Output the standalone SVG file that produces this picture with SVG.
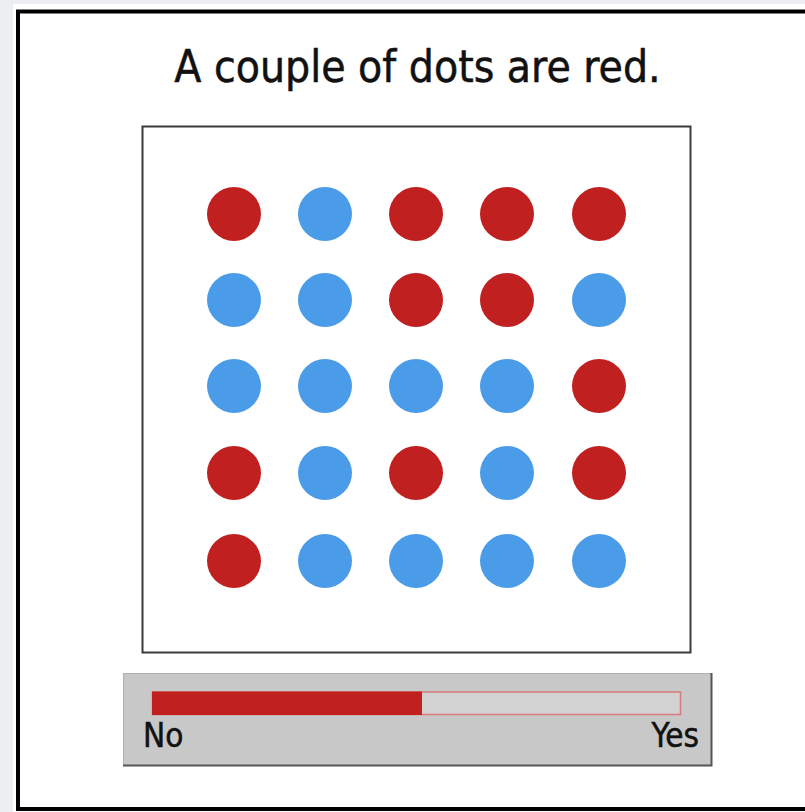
<svg xmlns="http://www.w3.org/2000/svg" width="805" height="812" viewBox="0 0 805 812">
<style>
.r{fill:#c0201f}
.b{fill:#4a9be8}
.t{font-family:'DejaVu Sans Condensed','DejaVu Sans',sans-serif;font-stretch:condensed;fill:#111;stroke:#111;stroke-width:0.5}
</style>
<rect x="0" y="0" width="805" height="812" fill="#eceef2"/>
<rect x="13" y="4" width="800" height="812" fill="#ffffff"/>
<rect id="frame" x="18" y="11.5" width="800" height="797.5" fill="#ffffff" stroke="#000" stroke-width="4"/>
<g id="title"><text class="t" x="417.5" y="82" font-size="44" text-anchor="middle">A couple of dots are red.</text></g>
<g id="panel"><rect x="142.5" y="126.5" width="548" height="526" fill="#fff" stroke="#3a3a3a" stroke-width="2"/></g>
<g id="dots">
<circle class="r" cx="234" cy="214" r="27"/><circle class="b" cx="325" cy="214" r="27"/><circle class="r" cx="416" cy="214" r="27"/><circle class="r" cx="507" cy="214" r="27"/><circle class="r" cx="599" cy="214" r="27"/>
<circle class="b" cx="234" cy="300" r="27"/><circle class="b" cx="325" cy="300" r="27"/><circle class="r" cx="416" cy="300" r="27"/><circle class="r" cx="507" cy="300" r="27"/><circle class="b" cx="599" cy="300" r="27"/>
<circle class="b" cx="234" cy="386" r="27"/><circle class="b" cx="325" cy="386" r="27"/><circle class="b" cx="416" cy="386" r="27"/><circle class="b" cx="507" cy="386" r="27"/><circle class="r" cx="599" cy="386" r="27"/>
<circle class="r" cx="234" cy="473" r="27"/><circle class="b" cx="325" cy="473" r="27"/><circle class="r" cx="416" cy="473" r="27"/><circle class="b" cx="507" cy="473" r="27"/><circle class="r" cx="599" cy="473" r="27"/>
<circle class="r" cx="234" cy="561" r="27"/><circle class="b" cx="325" cy="561" r="27"/><circle class="b" cx="416" cy="561" r="27"/><circle class="b" cx="507" cy="561" r="27"/><circle class="b" cx="599" cy="561" r="27"/>
</g>
<g id="slider">
<rect x="123.5" y="673.5" width="588" height="92" fill="#c8c8c8" stroke="#b0b0b0" stroke-width="1"/>
<path d="M123 765.5 H711.5 V673" fill="none" stroke="#555" stroke-width="2"/>
<rect x="152.5" y="692" width="528" height="22.5" fill="#d2d2d2" stroke="#d87a7c" stroke-width="1.5"/>
<rect x="152" y="691.5" width="270" height="23.5" fill="#c0201f"/>
<text class="t" x="143" y="747" font-size="33">No</text>
<text class="t" x="699" y="747" font-size="33" text-anchor="end">Yes</text>
</g>
</svg>
